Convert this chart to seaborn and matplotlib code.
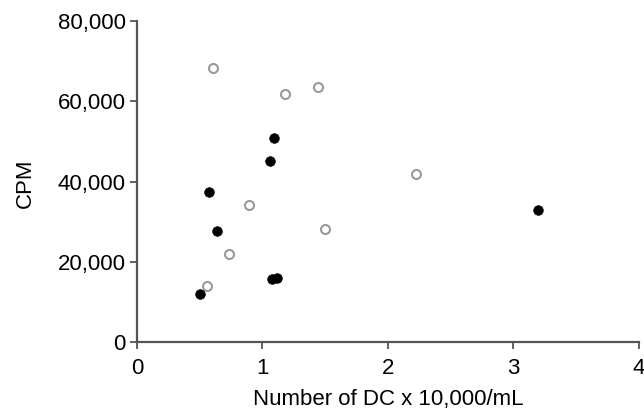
import pandas as pd
import matplotlib.pyplot as plt
import seaborn as sns
from matplotlib.ticker import FuncFormatter

# Values
filled_x = [0.50, 0.635, 0.575, 1.06, 1.095, 1.08, 1.113, 3.195]
filled_y = [12000, 27700, 37300, 45200, 50900, 15700, 16100, 32900]
open_x = [0.608, 1.18, 1.445, 0.895, 0.73, 0.558, 2.226, 1.50]
open_y = [68200, 61800, 63600, 34200, 21900, 14100, 41900, 28100]

x_ticks = [0, 1, 2, 3, 4]
y_ticks = [0, 20000, 40000, 60000, 80000]

data = pd.DataFrame({
    'dc': filled_x + open_x,
    'cpm': filled_y + open_y,
    'group': ['filled'] * len(filled_x) + ['open'] * len(open_x),
})

sns.set_style('ticks')
plt.rcParams['font.family'] = ['Liberation Sans', 'DejaVu Sans']
plt.rcParams['text.color'] = 'black'
plt.rcParams['axes.labelcolor'] = 'black'

fig = plt.figure(figsize=(6.44, 4.11), dpi=100)
ax = fig.add_axes([0.2127, 0.1672, 0.7791, 0.7817])

sns.scatterplot(data=data[data['group'] == 'open'], x='dc', y='cpm', ax=ax,
                marker='o', s=42, facecolor='white', edgecolor='#9a9a9a',
                linewidth=1.5, legend=False, clip_on=False, zorder=3)
sns.scatterplot(data=data[data['group'] == 'filled'], x='dc', y='cpm', ax=ax,
                marker='o', s=48, color='black', edgecolor='black',
                linewidth=0.5, legend=False, clip_on=False, zorder=4)

ax.set_xlim(0, 4)
ax.set_ylim(0, 80000)
ax.set_xticks(x_ticks)
ax.set_yticks(y_ticks)
ax.yaxis.set_major_formatter(FuncFormatter(lambda v, p: f'{int(v):,}'))
ax.tick_params(axis='both', labelsize=16, length=5, width=1.3,
               color='#555555', labelcolor='black', pad=3)
ax.tick_params(axis='x', pad=6)

sns.despine(ax=ax)
for side in ['left', 'bottom']:
    ax.spines[side].set_color('#555555')
    ax.spines[side].set_linewidth(1.6)

ax.set_xlabel('Number of DC x 10,000/mL', fontsize=16, color='black')
ax.xaxis.set_label_coords(0.5, -0.145)
ax.set_ylabel('CPM', fontsize=16, color='black')
ax.yaxis.set_label_coords(-0.201, 0.495)

fig.savefig('out.png', dpi=100)
